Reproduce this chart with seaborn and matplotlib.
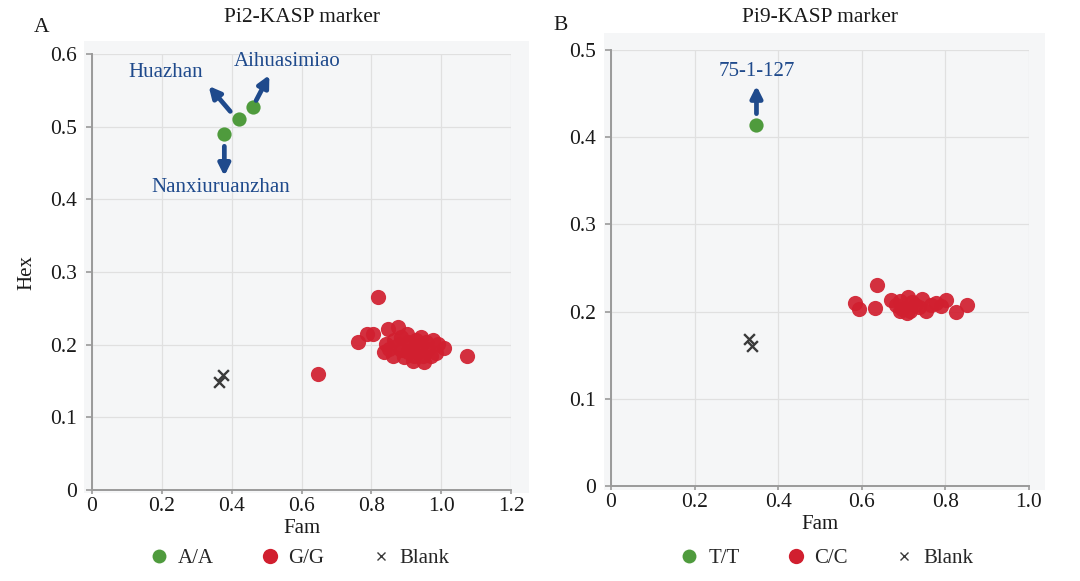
import numpy as np
import pandas as pd
import matplotlib
matplotlib.use('Agg')
import matplotlib.pyplot as plt
from matplotlib.patches import Rectangle
from matplotlib.lines import Line2D
import seaborn as sns

# ---- Pi2-KASP marker (panel A) ----
pi2_aa_fam = [0.379, 0.421, 0.462]
pi2_aa_hex = [0.490, 0.511, 0.527]
pi2_aa_names = ['Nanxiuruanzhan', 'Huazhan', 'Aihuasimiao']

pi2_gg_fam = [0.820, 0.647, 0.763, 0.788, 0.806, 0.848, 0.875, 0.902, 1.075, 1.008,
              0.841, 0.837, 0.861, 0.885, 0.904, 0.923, 0.918, 0.942, 0.952, 0.962,
              0.976, 0.986, 0.990, 0.942, 0.865, 0.885, 0.933, 0.971, 0.913, 0.851,
              0.894, 0.957, 0.875, 0.928, 0.904, 0.947]
pi2_gg_hex = [0.265, 0.159, 0.203, 0.214, 0.215, 0.221, 0.224, 0.215, 0.184, 0.195,
              0.201, 0.190, 0.185, 0.192, 0.204, 0.185, 0.177, 0.211, 0.176, 0.194,
              0.206, 0.188, 0.201, 0.199, 0.206, 0.211, 0.190, 0.185, 0.197, 0.194,
              0.183, 0.204, 0.199, 0.206, 0.190, 0.185]

pi2_blank_fam = [0.364, 0.374]
pi2_blank_hex = [0.149, 0.158]

# ---- Pi9-KASP marker (panel B) ----
pi9_tt_fam = [0.348]
pi9_tt_hex = [0.414]
pi9_tt_names = ['75-1-127']

pi9_cc_fam = [0.636, 0.584, 0.593, 0.632, 0.671, 0.691, 0.710, 0.695, 0.708, 0.728,
              0.745, 0.753, 0.778, 0.790, 0.802, 0.826, 0.852, 0.683, 0.720, 0.737,
              0.766, 0.716, 0.691]
pi9_cc_hex = [0.231, 0.210, 0.203, 0.204, 0.213, 0.212, 0.2165, 0.203, 0.198, 0.207,
              0.2145, 0.201, 0.2095, 0.206, 0.2135, 0.200, 0.208, 0.207, 0.211, 0.205,
              0.208, 0.201, 0.201]

pi9_blank_fam = [0.329, 0.337]
pi9_blank_hex = [0.1685, 0.161]

GREEN = '#4f9b3d'
RED = '#d11f2f'
GREY_X = '#3a3a3a'
BLUE = '#1f4a8c'

sns.set_theme(style='ticks')
plt.rcParams['font.family'] = ['Liberation Serif', 'DejaVu Serif']

W, H = 1080, 581
fig = plt.figure(figsize=(W / 100, H / 100), dpi=100)
fig.patch.set_facecolor('white')


def px_rect(x0, y0, x1, y1):
    # pixel box (top-left origin) -> figure fraction rect
    return [x0 / W, 1 - y1 / H, (x1 - x0) / W, (y1 - y0) / H]


def draw_panel(rect, bg, fam_a, hex_a, fam_b, hex_b, fam_x, hex_x,
               xmax, ymax, xticks, xticklabels, yticks, yticklabels,
               labels, title, letter, letter_xy):
    b = px_rect(*bg)
    fig.patches.append(Rectangle((b[0], b[1]), b[2], b[3], transform=fig.transFigure,
                                 facecolor='#f5f6f7', edgecolor='none', zorder=-5))
    ax = fig.add_axes(px_rect(*rect))
    ax.patch.set_visible(False)

    sns.scatterplot(x=fam_b, y=hex_b, ax=ax, color=RED, s=120, linewidth=0, alpha=0.92, zorder=3)
    sns.scatterplot(x=fam_a, y=hex_a, ax=ax, color=GREEN, s=105, linewidth=0, zorder=3)
    sns.scatterplot(x=fam_x, y=hex_x, ax=ax, color=GREY_X, marker='x', s=60, linewidth=1.7, zorder=3)

    ax.set_xlim(0, xmax)
    ax.set_ylim(0, ymax)
    ax.set_xticks(xticks)
    ax.set_xticklabels(xticklabels)
    ax.set_yticks(yticks)
    ax.set_yticklabels(yticklabels)
    ax.grid(True, color='#e0e0e0', linewidth=0.9, zorder=1)
    ax.set_axisbelow(True)
    for s in ['top', 'right']:
        ax.spines[s].set_visible(False)
    for s in ['left', 'bottom']:
        ax.spines[s].set_color('#9a9a9a')
        ax.spines[s].set_linewidth(1.4)
    ax.tick_params(axis='both', colors='#9a9a9a', labelcolor='#1a1a1a', labelsize=15.5, width=1.2)
    ax.tick_params(axis='x', length=3, pad=2)
    ax.tick_params(axis='y', length=4, pad=7)
    ax.set_xlabel('Fam', fontsize=15, color='#1a1a1a', labelpad=2)

    for (txt, tx, ty, ax0, ay0, ax1, ay1) in labels:
        ax.text(tx, ty, txt, color=BLUE, fontsize=15, ha='center', va='center', zorder=5)
        ax.annotate('', xy=(ax1, ay1), xytext=(ax0, ay0),
                    arrowprops=dict(arrowstyle='-|>', color=BLUE, lw=3.4,
                                    mutation_scale=17, shrinkA=0, shrinkB=0), zorder=5)

    cx = (rect[0] + rect[2]) / 2 / W
    fig.text(cx, 1 - 17 / H, title, ha='center', va='center', fontsize=15.5, color='#1a1a1a')
    fig.text(letter_xy[0] / W, 1 - letter_xy[1] / H, letter, ha='center', va='center',
             fontsize=15.5, color='#1a1a1a')
    return ax


# label text positions and arrow ends are layout, kept here
ax1 = draw_panel((92, 54, 511, 490), (84, 41, 529, 493),
                 pi2_aa_fam, pi2_aa_hex, pi2_gg_fam, pi2_gg_hex, pi2_blank_fam, pi2_blank_hex,
                 1.2, 0.6,
                 [0, 0.2, 0.4, 0.6, 0.8, 1.0, 1.2], ['0', '0.2', '0.4', '0.6', '0.8', '1.0', '1.2'],
                 [0, 0.1, 0.2, 0.3, 0.4, 0.5, 0.6], ['0', '0.1', '0.2', '0.3', '0.4', '0.5', '0.6'],
                 [(pi2_aa_names[0], 0.369, 0.416, 0.379, 0.473, 0.379, 0.432),
                  (pi2_aa_names[1], 0.211, 0.575, 0.396, 0.521, 0.334, 0.556),
                  (pi2_aa_names[2], 0.560, 0.590, 0.470, 0.536, 0.508, 0.571)],
                 'Pi2-KASP marker', 'A', (42, 28))
ax1.set_ylabel('Hex', fontsize=15, color='#1a1a1a', labelpad=10)

ax2 = draw_panel((611, 50, 1029, 486), (604, 33, 1045, 490),
                 pi9_tt_fam, pi9_tt_hex, pi9_cc_fam, pi9_cc_hex, pi9_blank_fam, pi9_blank_hex,
                 1.0, 0.5,
                 [0, 0.2, 0.4, 0.6, 0.8, 1.0], ['0', '0.2', '0.4', '0.6', '0.8', '1.0'],
                 [0, 0.1, 0.2, 0.3, 0.4, 0.5], ['0', '0.1', '0.2', '0.3', '0.4', '0.5'],
                 [(pi9_tt_names[0], 0.348, 0.475, 0.348, 0.427, 0.348, 0.459)],
                 'Pi9-KASP marker', 'B', (561, 25))
ax2.set_ylabel('')


def legend_handles(names):
    return [Line2D([], [], linestyle='none', marker='o', markersize=10, markerfacecolor=GREEN,
                   markeredgewidth=0, label=names[0]),
            Line2D([], [], linestyle='none', marker='o', markersize=11, markerfacecolor=RED,
                   markeredgewidth=0, label=names[1]),
            Line2D([], [], linestyle='none', marker='x', markersize=6, color=GREY_X,
                   markeredgewidth=1.0, label=names[2])]


for ax, names, cx in [(ax1, ['A/A', 'G/G', 'Blank'], 300), (ax2, ['T/T', 'C/C', 'Blank'], 827)]:
    fig.legend(handles=legend_handles(names), loc='center', bbox_to_anchor=(cx / W, 1 - 558 / H),
               ncol=3, frameon=False, fontsize=15, handlelength=0.8, handletextpad=0.5,
               columnspacing=2.3)

fig.savefig('out.png', dpi=100)
